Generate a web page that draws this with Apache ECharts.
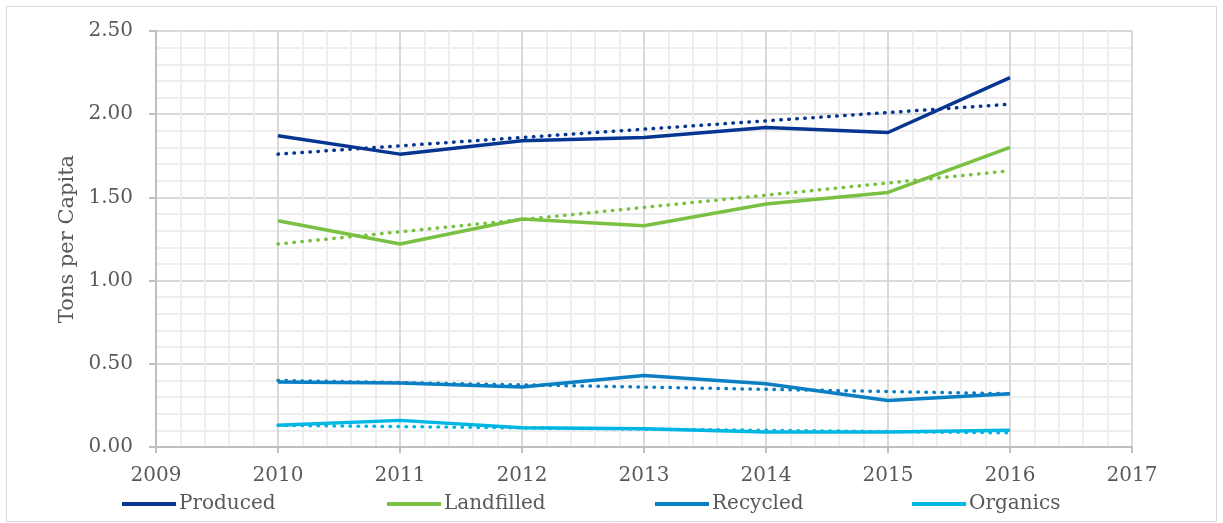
<!DOCTYPE html>
<html><head><meta charset="utf-8">
<script src="https://cdn.jsdelivr.net/npm/echarts@6/dist/echarts.min.js"></script>
<style>html,body{margin:0;padding:0;background:#fff}#c{width:1223px;height:523px}</style>
</head><body><div id="c"></div>
<script>
const years = [2010, 2011, 2012, 2013, 2014, 2015, 2016];
const produced   = [1.87, 1.76, 1.84, 1.86, 1.92, 1.89, 2.22];
const landfilled = [1.36, 1.22, 1.37, 1.33, 1.46, 1.53, 1.80];
const recycled   = [0.39, 0.385, 0.36, 0.43, 0.38, 0.28, 0.32];
const organics   = [0.13, 0.16, 0.115, 0.11, 0.09, 0.09, 0.10];
// linear trendline endpoints (2010, 2016)
const trendYears = [2010, 2016];
const producedTrend   = [1.76, 2.06];
const landfilledTrend = [1.22, 1.66];
const recycledTrend   = [0.40, 0.32];
const organicsTrend   = [0.13, 0.085];
const names = ['Produced', 'Landfilled', 'Recycled', 'Organics'];
const colors = ['#063592', '#7ac143', '#0b7fc4', '#00b7e4'];

const mainData = [produced, landfilled, recycled, organics];
const trendData = [producedTrend, landfilledTrend, recycledTrend, organicsTrend];
const font = '"DejaVu Serif", "Liberation Serif", serif';

const series = [];
names.forEach((n, i) => {
  series.push({
    name: n, type: 'line', data: years.map((y, k) => [y, mainData[i][k]]),
    showSymbol: false, symbol: 'none', z: 3,
    lineStyle: { color: colors[i], width: 3.5 }, itemStyle: { color: colors[i] }
  });
});
names.forEach((n, i) => {
  series.push({
    name: n + ' trend', type: 'line', data: trendYears.map((y, k) => [y, trendData[i][k]]),
    showSymbol: false, symbol: 'none', z: 2,
    lineStyle: { color: colors[i], width: 3.5, type: [0.5, 7.5], cap: 'round' }
  });
});

const legendLefts = [122, 387, 655, 912];
const legends = names.map((n, i) => ({
  data: [n], left: legendLefts[i], top: 494, padding: 0, icon: 'rect', itemWidth: 54, itemHeight: 4, itemGap: 5,
  textStyle: { fontFamily: font, fontSize: 20, color: '#595959', padding: [0, 0, 0, -2] }
}));

const chart = echarts.init(document.getElementById('c'));
chart.setOption({
  animation: false,
  backgroundColor: '#fff',
  graphic: [{ type: 'rect', shape: { x: 6.5, y: 6.5, width: 1210, height: 515 },
    style: { fill: 'none', stroke: '#d9d9d9', lineWidth: 1 } }],
  grid: { left: 156, right: 91, top: 31, bottom: 76 },
  legend: legends,
  xAxis: {
    type: 'value', min: 2009, max: 2017, interval: 1,
    axisLine: { show: true, lineStyle: { color: '#bfbfbf', width: 2 } },
    axisTick: { show: true, length: 6, lineStyle: { color: '#bfbfbf', width: 2 } },
    axisLabel: { fontFamily: font, fontSize: 20, color: '#595959', margin: 19, formatter: v => String(v) },
    splitLine: { show: true, lineStyle: { color: '#d9d9d9', width: 2 } },
    minorTick: { show: false, splitNumber: 5 },
    minorSplitLine: { show: true, lineStyle: { color: '#eeeeee', width: 2 } }
  },
  yAxis: {
    type: 'value', min: 0, max: 2.5, interval: 0.5,
    name: 'Tons per Capita', nameLocation: 'middle', nameGap: 78, nameRotate: 90,
    nameTextStyle: { fontFamily: font, fontSize: 21, color: '#595959' },
    axisLine: { show: true, lineStyle: { color: '#bfbfbf', width: 2 } },
    axisTick: { show: true, length: 7, lineStyle: { color: '#bfbfbf', width: 2 } },
    axisLabel: { fontFamily: font, fontSize: 20, color: '#595959', margin: 23, formatter: v => v.toFixed(2) },
    splitLine: { show: true, lineStyle: { color: '#d9d9d9', width: 2 } },
    minorTick: { show: false, splitNumber: 5 },
    minorSplitLine: { show: true, lineStyle: { color: '#eeeeee', width: 2 } }
  },
  series: series
});
</script></body></html>
